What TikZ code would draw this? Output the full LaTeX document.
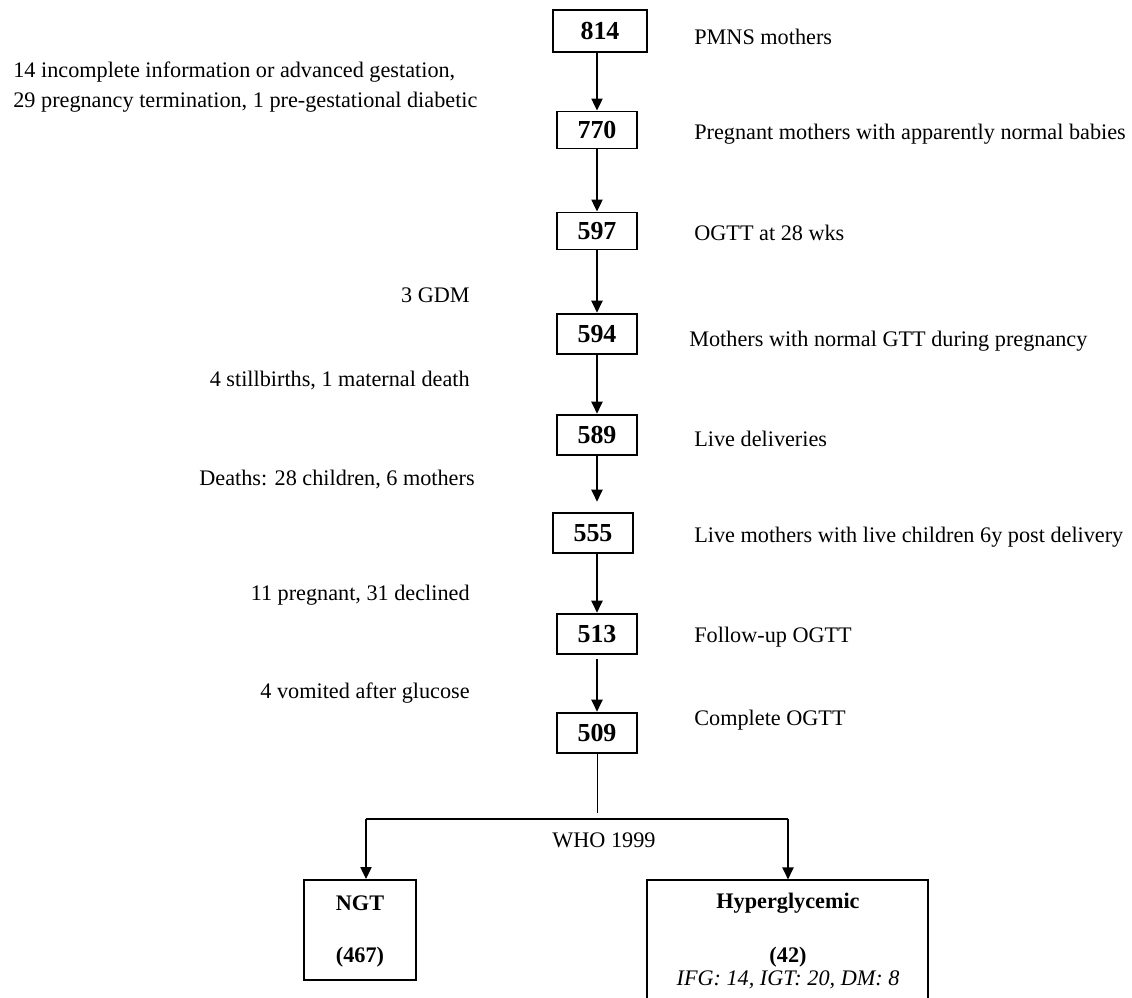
\documentclass[tikz,border=0pt]{standalone}
\usepackage{fontspec}
\setmainfont{Liberation Serif}
\usetikzlibrary{arrows.meta,positioning}

\begin{document}
\begin{tikzpicture}[x=0.54pt,y=-0.54pt,
  numbox/.style={draw,line width=1pt,minimum width=43pt,minimum height=22pt,inner sep=0pt,font=\fontsize{14}{16}\selectfont\bfseries},
  note/.style={inner sep=0pt,font=\fontsize{12}{14}\selectfont},
  flow/.style={line width=1pt,-{Triangle[length=6.5pt,width=6pt]}},
  groupbox/.style={draw,line width=1pt,inner sep=0pt}]
\useasboundingbox (0,0) rectangle (1132,998);
\clip (0,0) rectangle (1132,998);

% counts down the middle
\node[numbox,minimum width=51pt,minimum height=23pt] (b814) at (600,31) {814};
\node[numbox,minimum height=20pt] (b770) at (597,130) {770};
\node[numbox,minimum height=20pt] (b597) at (597,231) {597};
\node[numbox] (b594) at (597,334) {594};
\node[numbox] (b589) at (597,435) {589};
\node[numbox] (b555) at (593,533) {555};
\node[numbox] (b513) at (597,634) {513};
\node[numbox] (b509) at (597,733) {509};

\draw[flow] (b770 |- b814.south) -- (b770.north);
\draw[flow] (b770) -- (b597);
\draw[flow] (b597) -- (b594);
\draw[flow] (b594) -- (b589);
\draw[flow,shorten >=5.4pt] (b589) -- (b589 |- b555.north);
\draw[flow] (b513 |- b555.south) -- (b513.north);
\draw[flow,shorten <=2pt] (b513) -- (b509);

% what each box is
\node[note,anchor=west] (d814) at (694,37) {PMNS mothers};
\node[note,anchor=west] (d770) at (694,134) {Pregnant mothers with apparently normal babies};
\node[note,anchor=west] (d597) at (694,233) {OGTT at 28 wks};
\node[note,anchor=west] (d594) at (689,341) {Mothers with normal GTT during pregnancy};
\node[note,anchor=west] (d589) at (694,439) {Live deliveries};
\node[note,anchor=west] (d555) at (694,537) {Live mothers with live children 6y post delivery};
\node[note,anchor=west] (d513) at (694,637) {Follow-up OGTT};
\node[note,anchor=west] (d509) at (694,720) {Complete OGTT};

% exclusions
\node[note,anchor=west] (x1a) at (13,72) {14 incomplete information or advanced gestation,};
\node[note,anchor=west] (x1b) at (13,102) {29 pregnancy termination, 1 pre-gestational diabetic};
\node[note,anchor=east] (x2) at (470,295) {3 GDM};
\node[note,anchor=east] (x3) at (470,380) {4 stillbirths, 1 maternal death};
\node[note,anchor=east] (x4) at (475,479) {Deaths: 28 children, 6 mothers};
\node[note,anchor=east] (x5) at (470,595) {11 pregnant, 31 declined};
\node[note,anchor=east] (x6) at (470,693) {4 vomited after glucose};

% split by WHO 1999
\node[groupbox,minimum width=60.5pt,minimum height=54pt] (ngt) at (360,930) {};
\node[groupbox,minimum width=151.7pt,minimum height=86pt] (hyper) at (787.5,960) {};
\coordinate (split) at (597,813);
\coordinate (lcorner) at (366,819);
\coordinate (rcorner) at (788,819);
\draw[line width=0.5pt] (b509.south) -- (split);
\draw[line width=1pt] (lcorner) -- (rcorner);
\draw[flow] (lcorner) -- (lcorner |- ngt.north);
\draw[flow] (rcorner) -- (rcorner |- hyper.north);
\node[note] (who) at (604,840) {WHO 1999};

\node[note,font=\fontsize{12}{14}\selectfont\bfseries] (ngtname) at (360,903) {NGT};
\node[note,font=\fontsize{12}{14}\selectfont\bfseries] (ngtn) at (360,957) {(467)};
\node[note,font=\fontsize{12}{14}\selectfont\bfseries] (hypername) at (788,903) {Hyperglycemic};
\node[note,font=\fontsize{12}{14}\selectfont\bfseries] (hypern) at (788,957) {(42)};
\node[note,font=\fontsize{12}{14}\selectfont\itshape] (hypersplit) at (788,980) {IFG: 14, IGT: 20, DM: 8};
\end{tikzpicture}
\end{document}
